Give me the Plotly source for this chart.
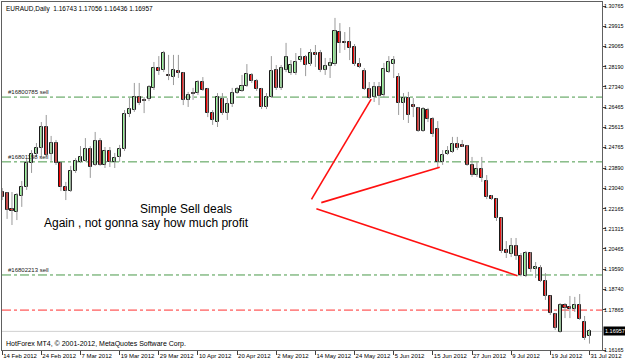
import plotly.graph_objects as go

# ---------------- data ----------------
date_labels = ["14 Feb 2012", "24 Feb 2012", "7 Mar 2012", "19 Mar 2012", "29 Mar 2012",
               "10 Apr 2012", "20 Apr 2012", "2 May 2012", "14 May 2012", "24 May 2012",
               "5 Jun 2012", "15 Jun 2012", "27 Jun 2012", "9 Jul 2012", "19 Jul 2012",
               "31 Jul 2012"]
date_label_bars = [0, 8, 16, 24, 32, 40, 48, 56, 64, 72, 80, 88, 96, 104, 112, 120]

open_ = [1.2287, 1.2283, 1.2215, 1.2202, 1.2270, 1.2308, 1.2410, 1.2448, 1.2474, 1.2563,
         1.2448, 1.2495, 1.2410, 1.2308, 1.2291, 1.2376, 1.2415, 1.2419, 1.2470, 1.2402,
         1.2504, 1.2402, 1.2461, 1.2415, 1.2436, 1.2470, 1.2618, 1.2635, 1.2690, 1.2678,
         1.2682, 1.2729, 1.2813, 1.2805, 1.2784, 1.2775, 1.2801, 1.2792, 1.2678, 1.2707,
         1.2707, 1.2754, 1.2724, 1.2622, 1.2584, 1.2682, 1.2622, 1.2661, 1.2707, 1.2716,
         1.2737, 1.2784, 1.2758, 1.2724, 1.2648, 1.2690, 1.2805, 1.2729, 1.2805, 1.2792,
         1.2792, 1.2847, 1.2860, 1.2830, 1.2877, 1.2877, 1.2805, 1.2822, 1.2830, 1.2966,
         1.2924, 1.2924, 1.2903, 1.2830, 1.2801, 1.2724, 1.2690, 1.2733, 1.2699, 1.2796,
         1.2830, 1.2775, 1.2665, 1.2686, 1.2656, 1.2644, 1.2546, 1.2635, 1.2597, 1.2555,
         1.2415, 1.2448, 1.2457, 1.2491, 1.2487, 1.2482, 1.2402, 1.2359, 1.2385, 1.2334,
         1.2270, 1.2257, 1.2177, 1.2041, 1.2024, 1.2058, 1.2016, 1.1931, 1.2028, 1.1960,
         1.1965, 1.1909, 1.1846, 1.1769, 1.1693, 1.1808, 1.1799, 1.1791, 1.1808, 1.1736,
         1.16743]
high = [1.2304, 1.2287, 1.2287, 1.2283, 1.2334, 1.2427, 1.2465, 1.2495, 1.2584, 1.2614,
        1.2525, 1.2508, 1.2415, 1.2330, 1.2398, 1.2431, 1.2482, 1.2516, 1.2482, 1.2542,
        1.2516, 1.2478, 1.2478, 1.2453, 1.2487, 1.2635, 1.2686, 1.2750, 1.2750, 1.2690,
        1.2741, 1.2839, 1.2864, 1.2886, 1.2869, 1.2869, 1.2869, 1.2796, 1.2712, 1.2729,
        1.2762, 1.2775, 1.2729, 1.2635, 1.2707, 1.2707, 1.2686, 1.2729, 1.2733, 1.2784,
        1.2830, 1.2792, 1.2767, 1.2729, 1.2707, 1.2864, 1.2826, 1.2826, 1.2920, 1.2847,
        1.2877, 1.2898, 1.2869, 1.2894, 1.2911, 1.2890, 1.2856, 1.2856, 1.3026, 1.3004,
        1.2966, 1.2987, 1.2915, 1.2856, 1.2813, 1.2754, 1.2754, 1.2754, 1.2835, 1.2864,
        1.2864, 1.2792, 1.2707, 1.2712, 1.2686, 1.2648, 1.2648, 1.2644, 1.2605, 1.2588,
        1.2465, 1.2482, 1.2521, 1.2521, 1.2508, 1.2487, 1.2436, 1.2415, 1.2436, 1.2359,
        1.2274, 1.2260, 1.2179, 1.2079, 1.2092, 1.2092, 1.2028, 1.2037, 1.2032, 1.1990,
        1.1977, 1.1943, 1.1848, 1.1774, 1.1816, 1.1816, 1.1846, 1.1842, 1.1854, 1.1761,
        1.17056]
low = [1.2253, 1.2173, 1.2147, 1.2168, 1.2224, 1.2296, 1.2368, 1.2436, 1.2436, 1.2436,
       1.2419, 1.2402, 1.2291, 1.2253, 1.2287, 1.2368, 1.2410, 1.2415, 1.2347, 1.2398,
       1.2398, 1.2389, 1.2393, 1.2389, 1.2415, 1.2461, 1.2605, 1.2627, 1.2656, 1.2622,
       1.2673, 1.2720, 1.2784, 1.2796, 1.2762, 1.2741, 1.2771, 1.2656, 1.2648, 1.2678,
       1.2699, 1.2716, 1.2605, 1.2572, 1.2563, 1.2614, 1.2593, 1.2648, 1.2703, 1.2712,
       1.2733, 1.2750, 1.2716, 1.2639, 1.2639, 1.2686, 1.2720, 1.2720, 1.2796, 1.2784,
       1.2784, 1.2839, 1.2779, 1.2822, 1.2818, 1.2796, 1.2784, 1.2771, 1.2822, 1.2877,
       1.2890, 1.2847, 1.2822, 1.2813, 1.2720, 1.2682, 1.2669, 1.2656, 1.2690, 1.2792,
       1.2771, 1.2614, 1.2593, 1.2580, 1.2605, 1.2542, 1.2542, 1.2584, 1.2521, 1.2393,
       1.2402, 1.2444, 1.2453, 1.2465, 1.2478, 1.2398, 1.2351, 1.2351, 1.2330, 1.2257,
       1.2253, 1.2164, 1.2028, 1.2007, 1.2011, 1.1999, 1.1929, 1.1926, 1.1948, 1.1922,
       1.1905, 1.1829, 1.1765, 1.1702, 1.1690, 1.1752, 1.1752, 1.1778, 1.1744, 1.1659,
       1.16436]
close = [1.2266, 1.2211, 1.2207, 1.2274, 1.2308, 1.2410, 1.2448, 1.2474, 1.2563, 1.2444,
         1.2495, 1.2410, 1.2308, 1.2291, 1.2376, 1.2419, 1.2436, 1.2470, 1.2393, 1.2504,
         1.2402, 1.2461, 1.2415, 1.2431, 1.2470, 1.2618, 1.2639, 1.2690, 1.2665, 1.2673,
         1.2733, 1.2813, 1.2801, 1.2877, 1.2779, 1.2805, 1.2792, 1.2678, 1.2699, 1.2703,
         1.2754, 1.2720, 1.2622, 1.2593, 1.2690, 1.2622, 1.2661, 1.2707, 1.2724, 1.2737,
         1.2788, 1.2758, 1.2724, 1.2648, 1.2690, 1.2801, 1.2729, 1.2813, 1.2860, 1.2826,
         1.2839, 1.2860, 1.2826, 1.2877, 1.2869, 1.2805, 1.2822, 1.2835, 1.2970, 1.2920,
         1.2920, 1.2898, 1.2830, 1.2818, 1.2724, 1.2686, 1.2733, 1.2695, 1.2809, 1.2839,
         1.2847, 1.2665, 1.2686, 1.2614, 1.2648, 1.2546, 1.2639, 1.2597, 1.2533, 1.2415,
         1.2444, 1.2461, 1.2491, 1.2474, 1.2480, 1.2402, 1.2359, 1.2385, 1.2347, 1.2266,
         1.2257, 1.2177, 1.2037, 1.2028, 1.2058, 1.2016, 1.1933, 1.2028, 1.1960, 1.1969,
         1.1909, 1.1846, 1.1774, 1.1710, 1.1808, 1.1795, 1.1791, 1.1808, 1.1748, 1.1667,
         1.16957]

price_ticks = [1.30765, 1.29915, 1.29065, 1.28190, 1.27340, 1.26465, 1.25615, 1.24765,
               1.23890, 1.23040, 1.22165, 1.21315, 1.20465, 1.19590, 1.18740, 1.17865, 1.16165]

order_levels = [1.2690, 1.2415, 1.1935]
order_names = ["#16800785 sell", "#16801198 sell", "#16802213 sell"]
stop_level = 1.1786

# trend lines drawn by hand: (bar, price) endpoints
trend_start_bar = [63.2, 65.2, 64.2]
trend_start_price = [1.2256, 1.2242, 1.2216]
trend_end_bar = [75.4, 89.4, 105.3]
trend_end_price = [1.2681, 1.2392, 1.1932]

y_min, y_max = 1.16166, 1.30935
x_min, x_max = -0.04, 122.56

# ---------------- figure ----------------
n = len(close)
idx = list(range(n))
fig = go.Figure()

# wicks
wx, wy = [], []
for i in idx:
    wx += [i, i, None]
    wy += [high[i], low[i], None]
fig.add_trace(go.Scatter(x=wx, y=wy, mode="lines", line=dict(color="#9a9a9a", width=1),
                         hoverinfo="skip", showlegend=False))

# bodies
base = [min(o, c) for o, c in zip(open_, close)]
height = [max(abs(c - o), 0.00012) for o, c in zip(open_, close)]
colors = ["#98f598" if c >= o else "#f00000" for o, c in zip(open_, close)]
fig.add_trace(go.Bar(x=idx, y=height, base=base, width=0.62,
                     marker=dict(color=colors, line=dict(color="#1a1a1a", width=1)),
                     hoverinfo="skip", showlegend=False))

# trend lines
for sb, sp, eb, ep in zip(trend_start_bar, trend_start_price, trend_end_bar, trend_end_price):
    fig.add_trace(go.Scatter(x=[sb, eb], y=[sp, ep], mode="lines",
                             line=dict(color="#ff1010", width=1.6),
                             hoverinfo="skip", showlegend=False))

small_font = "Liberation Sans"
shapes = []
annotations = []
for lvl, name in zip(order_levels, order_names):
    shapes.append(dict(type="line", xref="paper", x0=0, x1=1, yref="y", y0=lvl, y1=lvl,
                       line=dict(color="#4a9a4a", width=1, dash="dashdot"), layer="below"))
    annotations.append(dict(xref="paper", x=0, xanchor="left", xshift=4, yref="y", y=lvl,
                            yanchor="bottom", yshift=0, text=name, showarrow=False,
                            font=dict(family=small_font, size=6, color="#202020")))
shapes.append(dict(type="line", xref="paper", x0=0, x1=1, yref="y", y0=stop_level, y1=stop_level,
                   line=dict(color="#ff3030", width=1, dash="dashdot"), layer="below"))
shapes.append(dict(type="line", xref="paper", x0=0, x1=1, yref="y", y0=close[-1], y1=close[-1],
                   line=dict(color="#d0d0d0", width=1), layer="below"))

# header text
annotations.append(dict(xref="paper", yref="paper", x=0, y=1, xanchor="left", yanchor="top",
                        xshift=2, yshift=-1, showarrow=False,
                        text=f"EURAUD,Daily  {open_[-1]:.5f} {high[-1]:.5f} {low[-1]:.5f} {close[-1]:.5f}",
                        font=dict(family=small_font, size=6.5, color="#000000")))
annotations.append(dict(xref="paper", yref="paper", x=0, y=0, xanchor="left", yanchor="bottom",
                        xshift=2, yshift=0, showarrow=False,
                        text="HotForex MT4, © 2001-2012, MetaQuotes Software Corp.",
                        font=dict(family=small_font, size=7, color="#000000")))
annotations.append(dict(xref="paper", yref="paper", x=0.2267, y=0.405, xanchor="left",
                        yanchor="middle", showarrow=False, text="Simple Sell deals",
                        font=dict(family="Liberation Sans", size=12, color="#000000")))
annotations.append(dict(xref="paper", yref="paper", x=0.0667, y=0.365, xanchor="left",
                        yanchor="middle", showarrow=False,
                        text="Again , not gonna say how much profit",
                        font=dict(family="Liberation Sans", size=12, color="#000000")))
# current bid label
annotations.append(dict(xref="paper", yref="y", x=1, y=close[-1], xanchor="left", yanchor="middle",
                        xshift=1, showarrow=False, text=f"{close[-1]:.5f}", bgcolor="#000000",
                        borderpad=1, font=dict(family=small_font, size=5.5, color="#ffffff")))

fig.update_layout(
    width=625, height=363,
    margin=dict(l=2, r=23, t=2, b=13, pad=0, autoexpand=False),
    paper_bgcolor="#ffffff", plot_bgcolor="#ffffff",
    bargap=0, showlegend=False,
    shapes=shapes, annotations=annotations,
    xaxis=dict(range=[x_min, x_max], tickvals=date_label_bars, ticktext=date_labels,
               ticks="outside", ticklen=4, tickcolor="#404040", ticklabelposition="outside right",
               tickangle=0, automargin=False,
               tickfont=dict(family=small_font, size=6, color="#000000"),
               showgrid=False, zeroline=False, showline=True, mirror=True,
               linecolor="#606060", linewidth=1, fixedrange=True),
    yaxis=dict(range=[y_min, y_max], side="right", tickvals=price_ticks,
               ticktext=[f"{p:.5f}" for p in price_ticks], automargin=False,
               ticks="outside", ticklen=3, tickcolor="#404040", ticklabelstandoff=-3,
               tickfont=dict(family=small_font, size=5.4, color="#000000"),
               showgrid=False, zeroline=False, showline=True, mirror=True,
               linecolor="#606060", linewidth=1, fixedrange=True),
)

fig.write_html("out.html")
